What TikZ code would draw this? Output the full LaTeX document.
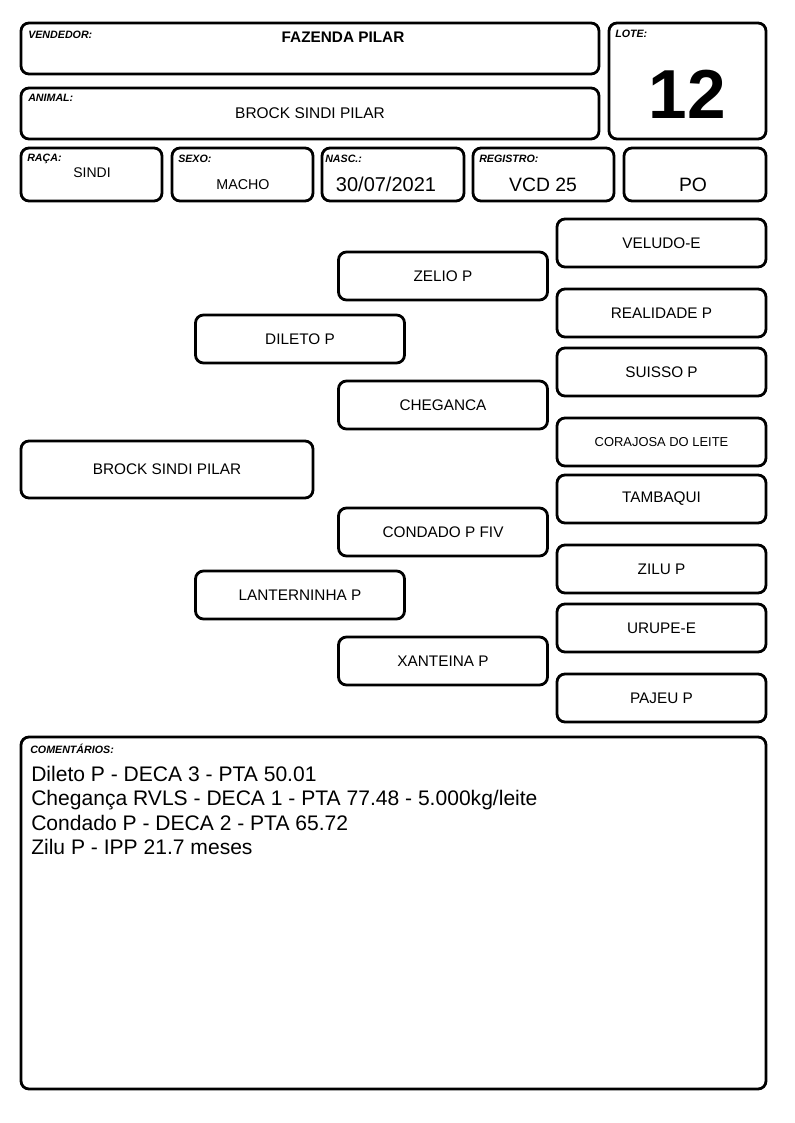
\documentclass[tikz,border=0pt]{standalone}
\usepackage{fontspec}
\setmainfont{Liberation Sans}
\usetikzlibrary{positioning,fit}

\begin{document}
\begin{tikzpicture}[x=0.75pt,y=-0.75pt,
  card/.style={draw, line width=2.1pt, rounded corners=6pt, inner sep=0pt},
  pedbox/.style={card, minimum width=156.75pt, minimum height=36pt, font=\fontsize{11.5}{14}\selectfont},
  tag/.style={anchor=base west, inner sep=0pt, font=\fontsize{8}{9}\selectfont\bfseries\itshape},
  val/.style={anchor=base, inner sep=0pt},
  note/.style={anchor=base west, inner sep=0pt, font=\fontsize{15.8}{18}\selectfont}]
  \useasboundingbox (0,0) rectangle (794,1123);

  % header
  \node[card, fit={(21,23) (599,74)}] (vendbox) {};
  \node[card, fit={(609,23) (766,139)}] (lotebox) {};
  \node[card, fit={(21,88) (599,139)}] (animbox) {};
  \node[card, fit={(21,148) (162,201)}] (racabox) {};
  \node[card, fit={(172,148) (313,201)}] (sexobox) {};
  \node[card, fit={(322,148) (464,201)}] (nascbox) {};
  \node[card, fit={(473,148) (614,201)}] (regbox) {};
  \node[card, fit={(624,148) (766,201)}] (pobox) {};

  \node[tag] (vendlbl) at (28,39) {VENDEDOR:};
  \node[tag] (lotelbl) at (615,38) {LOTE:};
  \node[tag] (animlbl) at (28,102) {ANIMAL:};
  \node[tag] (racalbl) at (27,162) {RAÇA:};
  \node[tag] (sexolbl) at (178,163) {SEXO:};
  \node[tag] (nasclbl) at (325,163) {NASC.:};
  \node[tag] (reglbl) at (479,163) {REGISTRO:};

  \node[val, font=\fontsize{11.5}{14}\selectfont\bfseries] (vendval) at (343,43) {FAZENDA PILAR};
  \node[val, font=\fontsize{52}{60}\selectfont\bfseries] (loteval) at (687.5,119) {12};
  \node[val, font=\fontsize{11.6}{14}\selectfont] (animval) at (310,119) {BROCK SINDI PILAR};
  \node[val, font=\fontsize{10.5}{13}\selectfont] (racaval) at (92,178) {SINDI};
  \node[val, font=\fontsize{10.7}{13}\selectfont] (sexoval) at (243,190) {MACHO};
  \node[val, font=\fontsize{15}{18}\selectfont] (nascval) at (386,192) {30/07/2021};
  \node[val, font=\fontsize{14.5}{18}\selectfont] (regval) at (543,192) {VCD 25};
  \node[val, font=\fontsize{14.5}{18}\selectfont] (poval) at (693,192) {PO};

  % pedigree
  \node[card, minimum width=219pt, minimum height=42.75pt, font=\fontsize{11.5}{14}\selectfont] (animal) at (167,469.5) {BROCK SINDI PILAR};
  \node[pedbox] (pai) at (300,339) {DILETO P};
  \node[pedbox] (mae) at (300,595) {LANTERNINHA P};
  \node[pedbox] (avopp) at (443,276) {ZELIO P};
  \node[pedbox] (avopm) at (443,405) {CHEGANCA};
  \node[pedbox] (avomp) at (443,532) {CONDADO P FIV};
  \node[pedbox] (avomm) at (443,661) {XANTEINA P};
  \node[pedbox] (bis1) at (661.5,243) {VELUDO-E};
  \node[pedbox] (bis2) at (661.5,313) {REALIDADE P};
  \node[pedbox] (bis3) at (661.5,372) {SUISSO P};
  \node[pedbox, font=\fontsize{9.7}{12}\selectfont] (bis4) at (661.5,442) {CORAJOSA DO LEITE};
  \node[pedbox] (bis5) at (661.5,499) {TAMBAQUI};
  \node[pedbox] (bis6) at (661.5,569) {ZILU P};
  \node[pedbox] (bis7) at (661.5,628) {URUPE-E};
  \node[pedbox] (bis8) at (661.5,698) {PAJEU P};

  % comentarios
  \node[card, fit={(21,737) (766,1089)}] (combox) {};
  \node[tag] (comlbl) at (30,753) {COMENTÁRIOS:};
  \node[note] (cmt1) at (31,781) {Dileto P - DECA 3 - PTA 50.01};
  \node[note] (cmt2) at (31,805.5) {Chegança RVLS - DECA 1 - PTA 77.48 - 5.000kg/leite};
  \node[note] (cmt3) at (31,830) {Condado P - DECA 2 - PTA 65.72};
  \node[note] (cmt4) at (31,854.5) {Zilu P - IPP 21.7 meses};
\end{tikzpicture}
\end{document}
